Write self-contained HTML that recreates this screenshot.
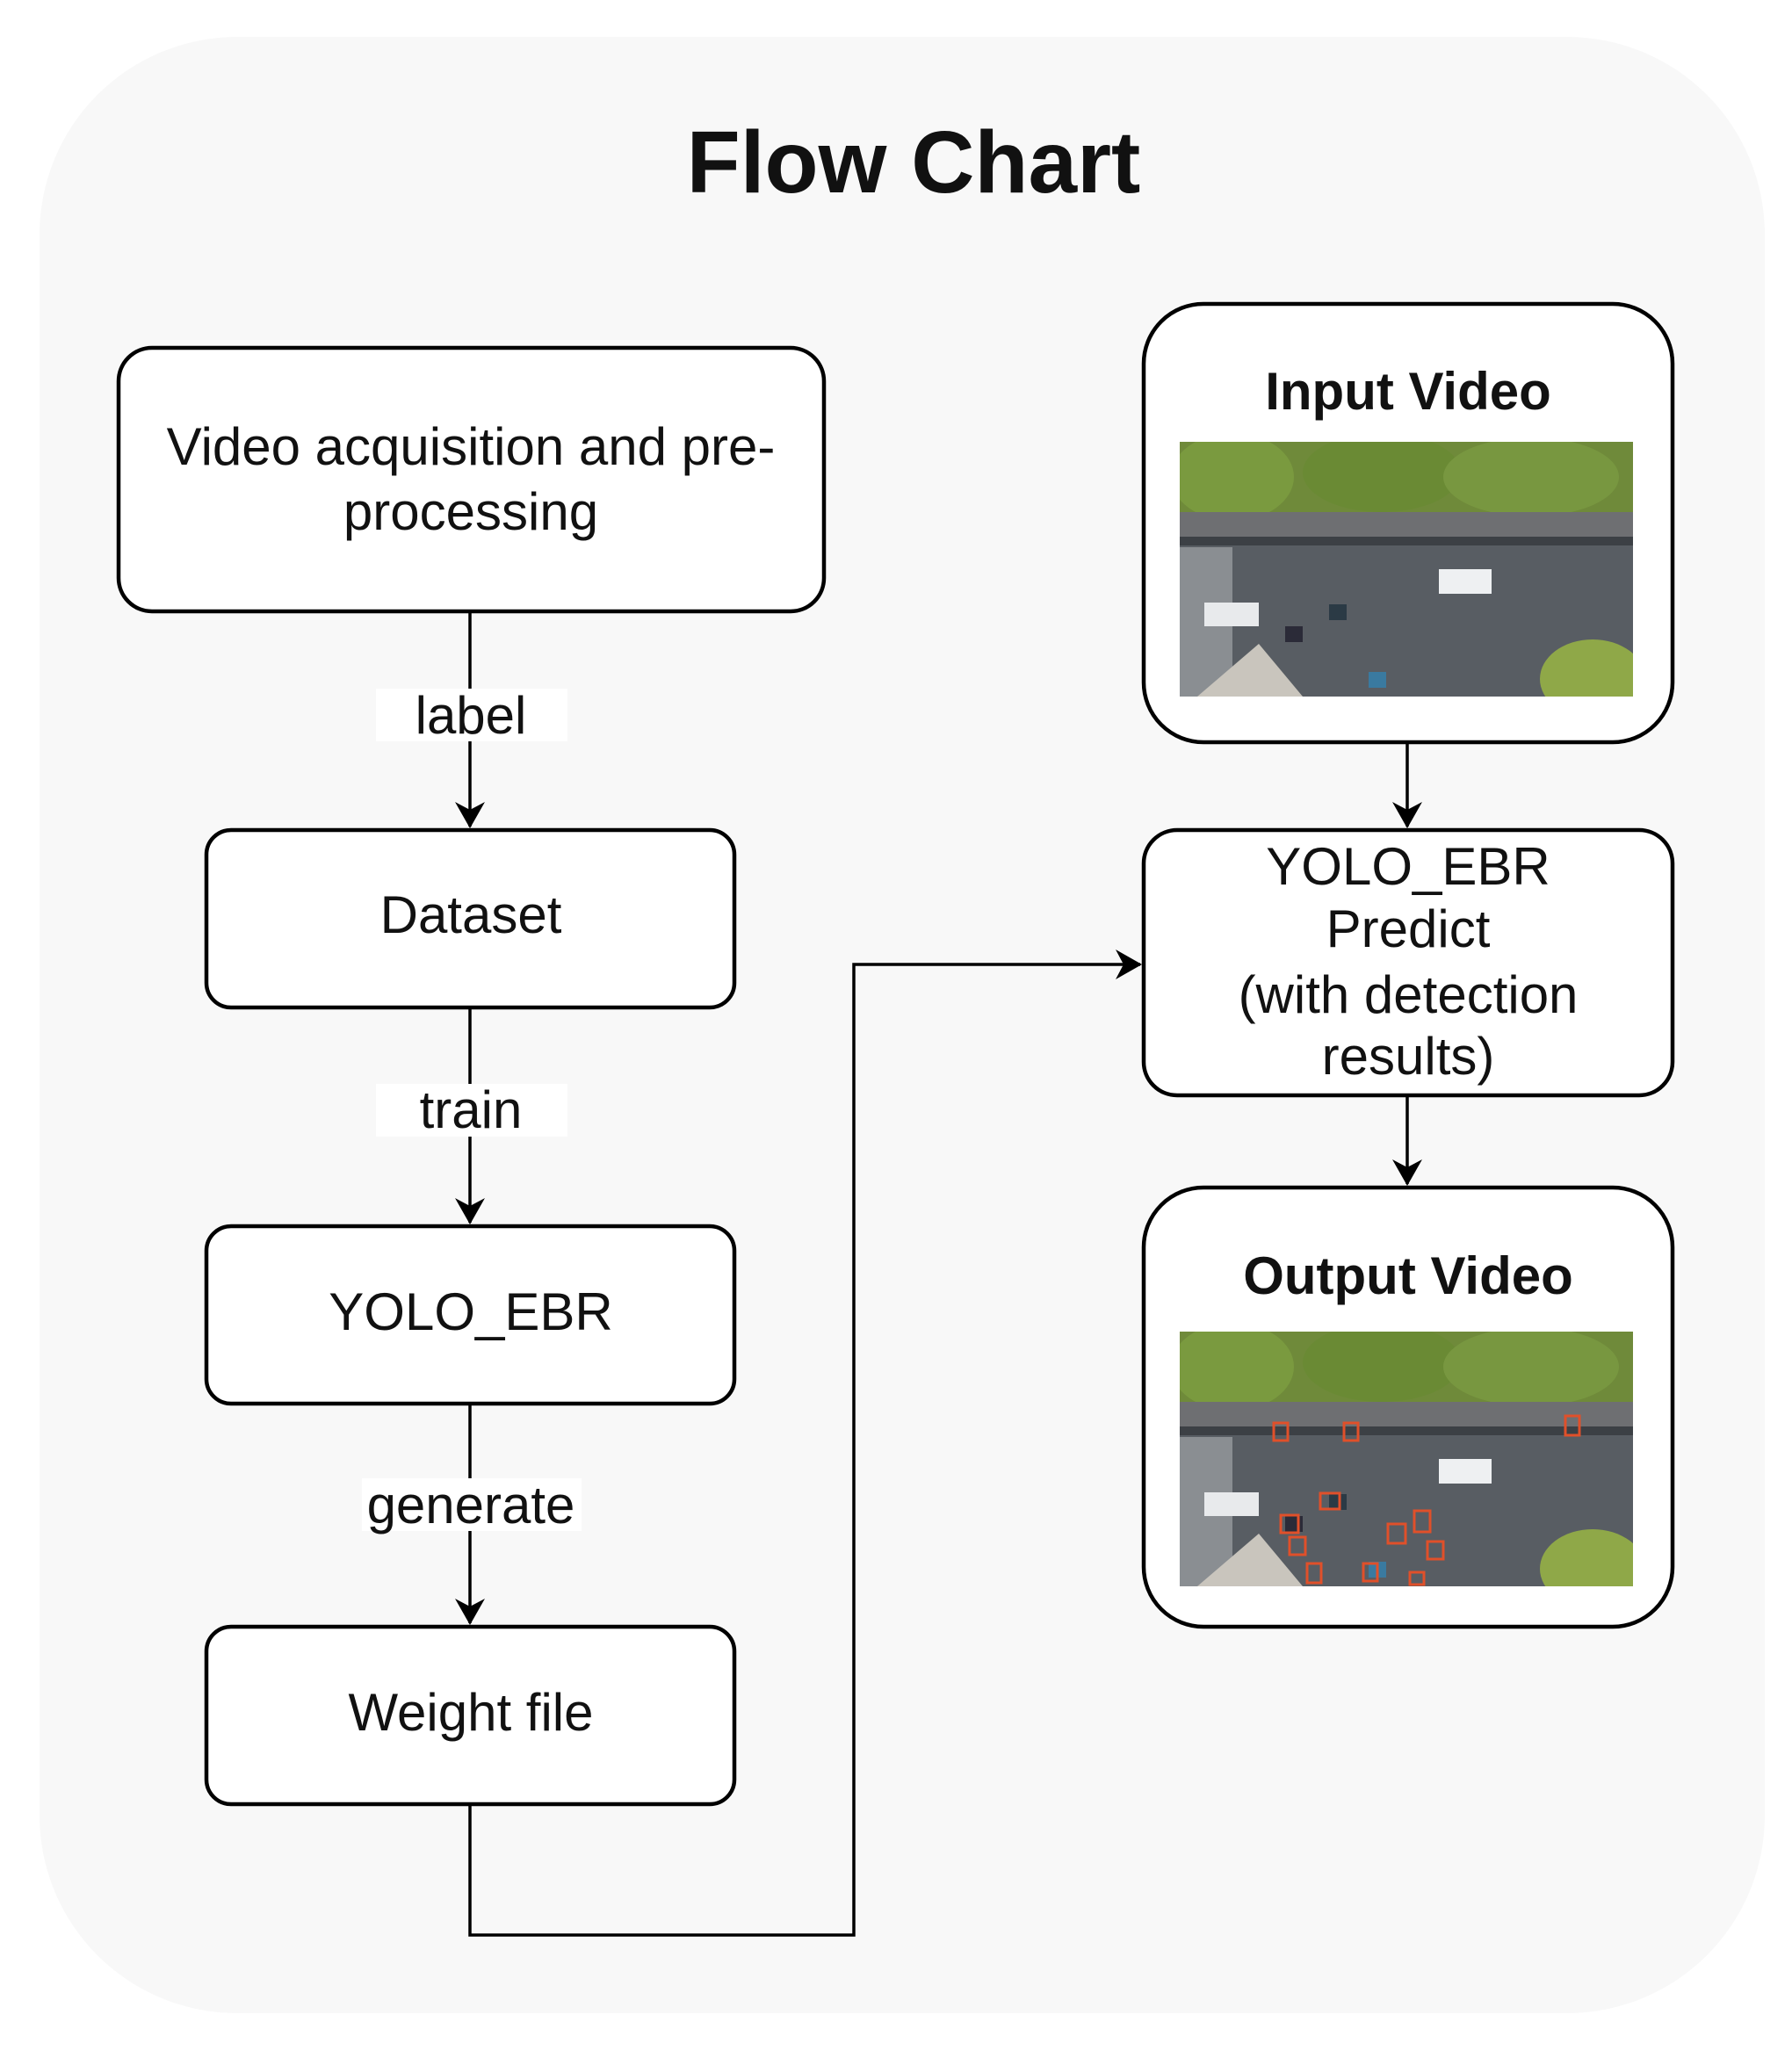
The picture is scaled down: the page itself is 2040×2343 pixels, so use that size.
<!DOCTYPE html>
<html><head><meta charset="utf-8"><style>
html,body{margin:0;padding:0;background:#fff;}
svg{display:block;}
text{font-family:"Liberation Sans",Arial,sans-serif;fill:#111;}
</style></head><body>
<svg width="2040" height="2343" viewBox="0 0 2040 2343" xmlns="http://www.w3.org/2000/svg">
<defs>
<marker id="ah" viewBox="0 0 30 34" refX="28" refY="17" markerWidth="30" markerHeight="34" markerUnits="userSpaceOnUse" orient="auto">
<path d="M0,0 L30,17 L0,34 L9,17 Z" fill="#000"/>
</marker>
<clipPath id="cp"><rect x="0" y="0" width="516" height="290"/></clipPath>
<g id="scene" clip-path="url(#cp)">
<rect x="0" y="0" width="516" height="290" fill="#5b6065"/>
<rect x="0" y="0" width="516" height="85" fill="#6f8a3a"/>
<ellipse cx="60" cy="40" rx="70" ry="50" fill="#7a9a3f"/>
<ellipse cx="230" cy="35" rx="90" ry="45" fill="#6a8a34"/>
<ellipse cx="400" cy="40" rx="100" ry="45" fill="#789740"/>
<rect x="0" y="80" width="516" height="30" fill="#6e6f72"/>
<rect x="0" y="108" width="516" height="10" fill="#3c4045"/>
<rect x="0" y="118" width="516" height="172" fill="#585d63"/>
<rect x="0" y="120" width="60" height="170" fill="#8a8e92"/>
<polygon points="20,290 90,230 140,290" fill="#c9c5bd"/>
<ellipse cx="470" cy="270" rx="60" ry="45" fill="#8fa848"/>
<rect x="295" y="145" width="60" height="28" fill="#eef0f2"/>
<rect x="28" y="183" width="62" height="27" fill="#e8eaec"/>
<rect x="170" y="185" width="20" height="18" fill="#2b3a45"/>
<rect x="120" y="210" width="20" height="18" fill="#2b2b38"/>
<rect x="215" y="262" width="20" height="18" fill="#3a7aa0"/>
</g>
</defs>

<rect x="45" y="42" width="1964" height="2250" rx="225" fill="#f8f8f8"/>

<text x="1040" y="219" font-size="100" font-weight="bold" text-anchor="middle">Flow Chart</text>

<g fill="#fff" stroke="#000" stroke-width="4.5">
<rect x="135" y="396" width="803" height="300" rx="38"/>
<rect x="235" y="945" width="601" height="202" rx="28"/>
<rect x="235" y="1396" width="601" height="202" rx="28"/>
<rect x="235" y="1852" width="601" height="202" rx="28"/>
<rect x="1302" y="346" width="602" height="499" rx="68"/>
<rect x="1302" y="945" width="602" height="302" rx="38"/>
<rect x="1302" y="1352" width="602" height="500" rx="68"/>
</g>

<g stroke="#000" stroke-width="3.5" fill="none">
<line x1="535" y1="696" x2="535" y2="941" marker-end="url(#ah)"/>
<line x1="535" y1="1147" x2="535" y2="1392" marker-end="url(#ah)"/>
<line x1="535" y1="1598" x2="535" y2="1848" marker-end="url(#ah)"/>
<polyline points="535,2054 535,2203 972,2203 972,1098 1298,1098" marker-end="url(#ah)"/>
<line x1="1602" y1="845" x2="1602" y2="941" marker-end="url(#ah)"/>
<line x1="1602" y1="1247" x2="1602" y2="1348" marker-end="url(#ah)"/>
</g>

<g fill="#fff">
<rect x="428" y="784" width="218" height="60"/>
<rect x="428" y="1234" width="218" height="60"/>
<rect x="412" y="1683" width="250" height="60"/>
</g>

<g font-size="60" text-anchor="middle">
<text x="536" y="529">Video acquisition and pre-</text>
<text x="536" y="603">processing</text>
<text x="536" y="835">label</text>
<text x="536" y="1062">Dataset</text>
<text x="536" y="1284">train</text>
<text x="536" y="1514">YOLO_EBR</text>
<text x="536" y="1734">generate</text>
<text x="536" y="1970">Weight file</text>
<text x="1603" y="1007">YOLO_EBR</text>
<text x="1603" y="1078">Predict</text>
<text x="1603" y="1153">(with detection</text>
<text x="1603" y="1223">results)</text>
<text x="1603" y="466" font-weight="bold">Input Video</text>
<text x="1603" y="1473" font-weight="bold">Output Video</text>
</g>

<use href="#scene" x="1343" y="503"/>
<use href="#scene" x="1343" y="1516"/>
<g fill="none" stroke="#e0502a" stroke-width="3">
<rect x="1450" y="1620" width="16" height="20"/>
<rect x="1530" y="1620" width="16" height="20"/>
<rect x="1782" y="1612" width="16" height="22"/>
<rect x="1503" y="1700" width="22" height="18"/>
<rect x="1458" y="1725" width="20" height="20"/>
<rect x="1468" y="1750" width="18" height="20"/>
<rect x="1580" y="1735" width="20" height="22"/>
<rect x="1610" y="1720" width="18" height="24"/>
<rect x="1625" y="1755" width="18" height="20"/>
<rect x="1552" y="1780" width="16" height="20"/>
<rect x="1488" y="1780" width="16" height="22"/>
<rect x="1605" y="1790" width="16" height="14"/>
</g>
</svg>
</body></html>
